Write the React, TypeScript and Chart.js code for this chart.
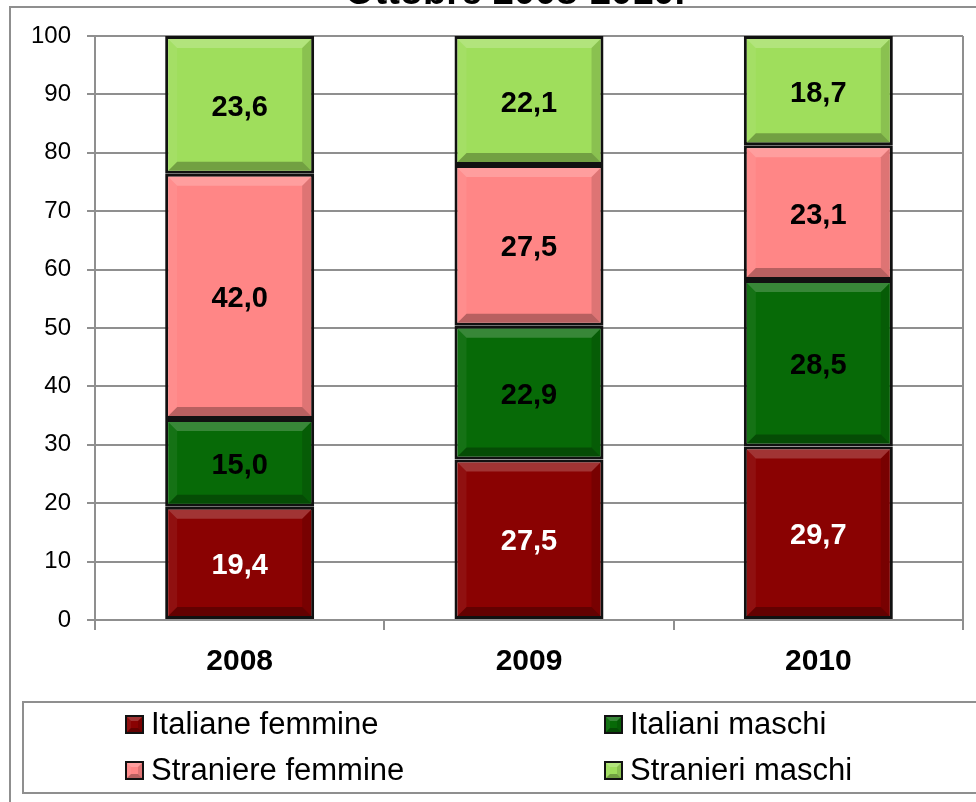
import React, { useEffect, useRef } from "react";
import { Chart, registerables } from "chart.js";

Chart.register(...registerables);

const years = ["2008", "2009", "2010"];
const seriesNames = ["Italiane femmine", "Italiani maschi", "Straniere femmine", "Stranieri maschi"];
const italianeFemmine = [19.4, 27.5, 29.7];
const italianiMaschi = [15.0, 22.9, 28.5];
const straniereFemmine = [42.0, 27.5, 23.1];
const stranieriMaschi = [23.6, 22.1, 18.7];
const seriesColors = ["#8a0202", "#076a07", "#ff8686", "#9fde5c"];
const labelColors = ["#ffffff", "#000000", "#000000", "#000000"];
const titleText = "Ottobre 2008-2010.";

const FONT = "'Liberation Sans', Arial, Helvetica, sans-serif";
const GRID = "#8f8f8f";

function bevel(ctx: CanvasRenderingContext2D, l: number, t: number, r: number, b: number, s: number) {
  const h = b - t;
  const w = r - l;
  const ss = Math.min(s, h / 2, w / 2);
  if (ss <= 0) return;
  ctx.save();
  ctx.fillStyle = "rgba(255,255,255,0.2)";
  ctx.beginPath();
  ctx.moveTo(l, t); ctx.lineTo(r, t); ctx.lineTo(r - ss, t + ss); ctx.lineTo(l + ss, t + ss); ctx.closePath();
  ctx.fill();
  ctx.fillStyle = "rgba(255,255,255,0.06)";
  ctx.beginPath();
  ctx.moveTo(l, t); ctx.lineTo(l + ss, t + ss); ctx.lineTo(l + ss, b - ss); ctx.lineTo(l, b); ctx.closePath();
  ctx.fill();
  ctx.fillStyle = "rgba(0,0,0,0.13)";
  ctx.beginPath();
  ctx.moveTo(r, t); ctx.lineTo(r, b); ctx.lineTo(r - ss, b - ss); ctx.lineTo(r - ss, t + ss); ctx.closePath();
  ctx.fill();
  ctx.fillStyle = "rgba(0,0,0,0.28)";
  ctx.beginPath();
  ctx.moveTo(l, b); ctx.lineTo(r, b); ctx.lineTo(r - ss, b - ss); ctx.lineTo(l + ss, b - ss); ctx.closePath();
  ctx.fill();
  ctx.restore();
}

const decorPlugin = {
  id: "decor",
  beforeDraw(chart: any) {
    const ctx: CanvasRenderingContext2D = chart.ctx;
    ctx.save();
    ctx.fillStyle = "#ffffff";
    ctx.fillRect(0, 0, chart.width, chart.height);
    ctx.strokeStyle = GRID;
    ctx.lineWidth = 2;
    ctx.strokeRect(10, 7, chart.width + 20, chart.height + 20);
    ctx.fillStyle = "#000";
    ctx.font = `bold 38px ${FONT}`;
    ctx.textAlign = "center";
    ctx.textBaseline = "alphabetic";
    ctx.fillText(titleText, 515, 4);
    ctx.restore();
  },
  afterDatasetsDraw(chart: any) {
    const ctx: CanvasRenderingContext2D = chart.ctx;
    chart.data.datasets.forEach((ds: any, di: number) => {
      const meta = chart.getDatasetMeta(di);
      meta.data.forEach((el: any) => {
        const l = el.x - el.width / 2 + 3;
        const r = el.x + el.width / 2 - 3;
        const t = Math.min(el.y, el.base) + 3;
        const b = Math.max(el.y, el.base) - 3;
        bevel(ctx, l, t, r, b, 9);
      });
    });
    chart.data.datasets.forEach((ds: any, di: number) => {
      const meta = chart.getDatasetMeta(di);
      meta.data.forEach((el: any, i: number) => {
        const v = ds.data[i];
        ctx.save();
        ctx.fillStyle = labelColors[di];
        ctx.font = `bold 29px ${FONT}`;
        ctx.textAlign = "center";
        ctx.textBaseline = "middle";
        ctx.fillText(v.toFixed(1).replace(".", ","), el.x, (el.y + el.base) / 2 + 3);
        ctx.restore();
      });
    });
  },
  afterDraw(chart: any) {
    const ctx: CanvasRenderingContext2D = chart.ctx;
    ctx.save();
    ctx.strokeStyle = GRID;
    ctx.lineWidth = 2;
    ctx.strokeRect(23, 702, chart.width + 20, 91);
    const cols = [125, 604];
    const rows = [724, 770];
    seriesNames.forEach((name, i) => {
      const x = cols[i % 2];
      const y = rows[Math.floor(i / 2)];
      ctx.fillStyle = "#111";
      ctx.fillRect(x, y - 9, 19, 19);
      ctx.fillStyle = seriesColors[i];
      ctx.fillRect(x + 2, y - 7, 15, 15);
      bevel(ctx, x + 2, y - 7, x + 17, y + 8, 4);
      ctx.fillStyle = "#000";
      ctx.font = `31px ${FONT}`;
      ctx.textAlign = "left";
      ctx.textBaseline = "middle";
      ctx.fillText(name, x + 26, y + 1);
    });
    ctx.restore();
  },
};

export default function App() {
  const ref = useRef<HTMLCanvasElement | null>(null);
  useEffect(() => {
    if (!ref.current) return;
    const series = [italianeFemmine, italianiMaschi, straniereFemmine, stranieriMaschi];
    const chart = new Chart(ref.current, {
      type: "bar",
      data: {
        labels: years,
        datasets: series.map((d, i) => ({
          label: seriesNames[i],
          data: d,
          backgroundColor: seriesColors[i],
          borderColor: "#111111",
          borderWidth: 3,
          borderSkipped: false,
          categoryPercentage: 1,
          barPercentage: 0.515,
        })),
      },
      options: {
        responsive: false,
        animation: false,
        layout: { padding: { left: 0, right: 13, top: 36, bottom: 0 } },
        plugins: {
          legend: { display: false },
          title: { display: false },
          tooltip: { enabled: false },
        },
        scales: {
          x: {
            stacked: true,
            afterFit: (s: any) => { s.height = 182; },
            grid: {
              offset: true,
              drawOnChartArea: true,
              color: (c: any) => (c.type === "scale" ? GRID : "rgba(0,0,0,0)"),
              tickColor: GRID,
              tickLength: 10,
              lineWidth: 2,
            },
            border: { color: GRID, width: 2 },
            ticks: {
              color: "#000",
              padding: 14,
              font: { family: FONT, size: 30, weight: "bold" },
            },
          },
          y: {
            stacked: true,
            min: 0,
            max: 100,
            afterFit: (s: any) => { s.width = 95; },
            grid: { color: GRID, lineWidth: 2, tickLength: 8, tickColor: GRID },
            border: { color: GRID, width: 2 },
            ticks: {
              stepSize: 10,
              color: "#000",
              padding: 16,
              font: { family: FONT, size: 24 },
            },
          },
        },
      },
      plugins: [decorPlugin],
    } as any);
    return () => chart.destroy();
  }, []);
  return (
    <div style={{ position: "fixed", left: 0, top: 0, width: 976, height: 802, background: "#fff" }}>
      <canvas ref={ref} width={976} height={802} style={{ display: "block" }} />
    </div>
  );
}
